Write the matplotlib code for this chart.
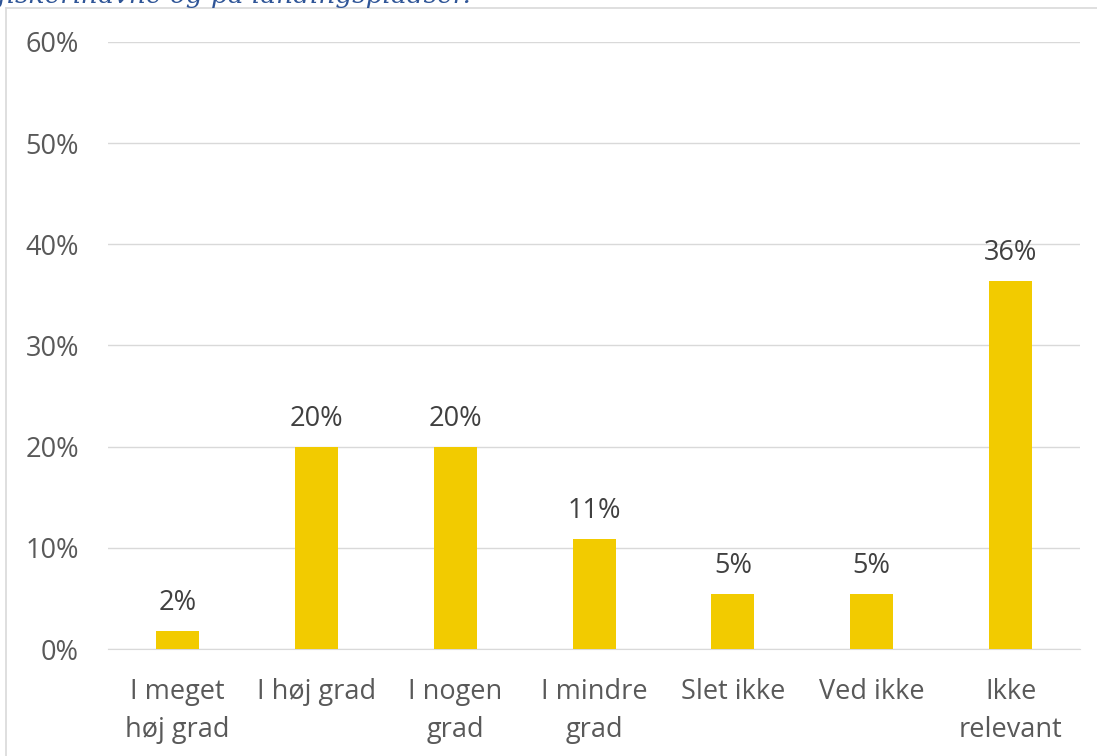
import matplotlib.pyplot as plt
from matplotlib.lines import Line2D
from matplotlib.ticker import PercentFormatter

categories = ['I meget\nhøj grad', 'I høj grad', 'I nogen\ngrad', 'I mindre\ngrad',
              'Slet ikke', 'Ved ikke', 'Ikke\nrelevant']
values = [1.8, 20.0, 20.0, 10.9, 5.45, 5.45, 36.4]
labels = ['2%', '20%', '20%', '11%', '5%', '5%', '36%']
title = 'fiskerihavne og på landingspladser.'

plt.rcParams['font.family'] = ['Open Sans', 'DejaVu Sans']

fig = plt.figure(figsize=(10.97, 7.56), dpi=100)
ax = fig.add_axes([0.0985, 0.1415, 0.886, 0.803])

x = range(len(categories))
bars = ax.bar(x, values, width=0.31, color='#F2CB00', zorder=3)
for b, lab in zip(bars, labels):
    ax.annotate(lab, (b.get_x() + b.get_width() / 2, b.get_height()),
                xytext=(0, 10), textcoords='offset points', ha='center', va='bottom',
                fontsize=19.5, color='#404040')

ax.set_ylim(0, 60)
ax.set_xlim(-0.5, len(categories) - 0.5)
ax.set_yticks(range(0, 61, 10))
ax.yaxis.set_major_formatter(PercentFormatter(decimals=0))
ax.grid(axis='y', color='#D9D9D9', linewidth=1, zorder=0)
ax.set_xticks(list(x))
ax.set_xticklabels(categories, linespacing=1.45)
ax.tick_params(axis='both', length=0, labelsize=19.5, colors='#595959')
ax.tick_params(axis='x', pad=21)
ax.tick_params(axis='y', pad=21)
for s in ['top', 'right', 'left']:
    ax.spines[s].set_visible(False)
ax.spines['bottom'].set_color('#D9D9D9')

# chart frame
fig.add_artist(Line2D([6 / 1097, 6 / 1097], [0, 1 - 8 / 756], color='#D9D9D9', lw=1.2))
fig.add_artist(Line2D([6 / 1097, 1], [1 - 8 / 756, 1 - 8 / 756], color='#D9D9D9', lw=1.2))

fig.text(-0.002, 1 - 3 / 756, title, fontsize=19, style='italic', color='#2F5597',
         family='DejaVu Serif', va='baseline', ha='left')

fig.savefig('out.png', dpi=100)
